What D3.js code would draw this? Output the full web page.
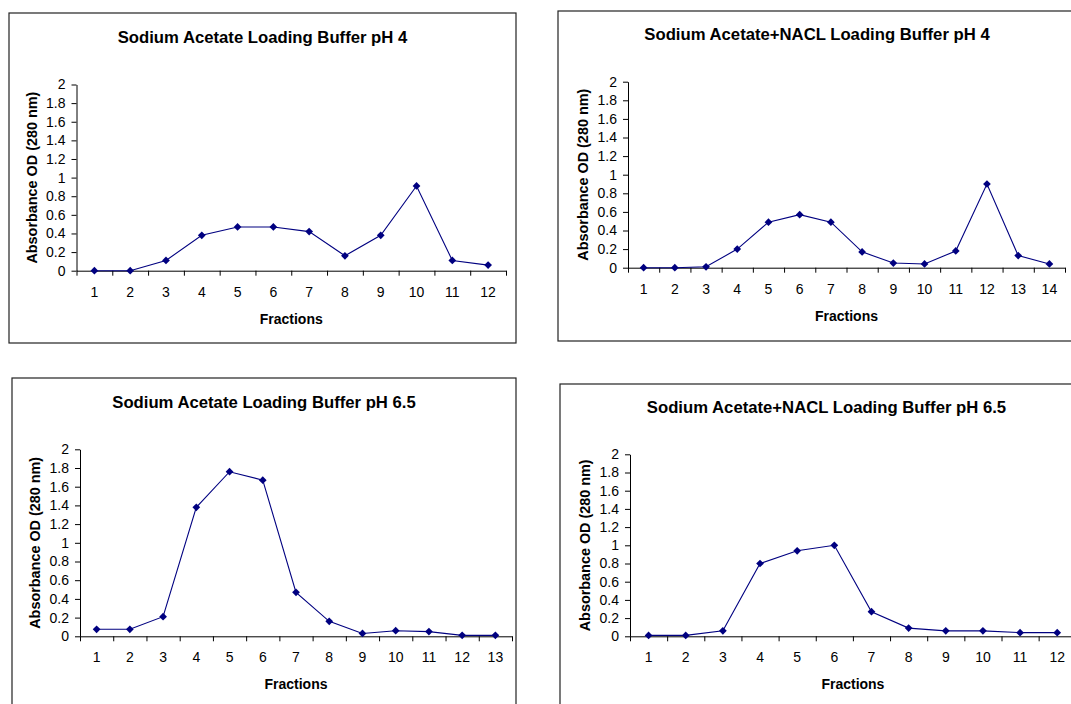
<!DOCTYPE html>
<html>
<head>
<meta charset="utf-8">
<script src="https://cdn.jsdelivr.net/npm/d3@7"></script>
<style>
  body { margin: 0; background: #fff; }
  svg { display: block; }
  text { font-family: "Liberation Sans", Arial, sans-serif; fill: #000; }
</style>
</head>
<body>
<div id="chart"></div>
<script>
// fraction labels for each run
const fractions12 = ["1", "2", "3", "4", "5", "6", "7", "8", "9", "10", "11", "12"];
const fractions13 = ["1", "2", "3", "4", "5", "6", "7", "8", "9", "10", "11", "12", "13"];
const fractions14 = ["1", "2", "3", "4", "5", "6", "7", "8", "9", "10", "11", "12", "13", "14"];

// absorbance OD at 280 nm
const odAcetatePH4 = [0, 0, 0.11, 0.38, 0.47, 0.47, 0.42, 0.16, 0.38, 0.91, 0.11, 0.06];
const odNaclPH4 = [0, 0, 0.01, 0.2, 0.49, 0.57, 0.49, 0.17, 0.05, 0.04, 0.18, 0.9, 0.13, 0.04];
const odAcetatePH65 = [0.075, 0.075, 0.21, 1.38, 1.76, 1.67, 0.47, 0.16, 0.03, 0.06, 0.05, 0.01, 0.01];
const odNaclPH65 = [0.01, 0.01, 0.06, 0.8, 0.94, 1.0, 0.27, 0.09, 0.06, 0.06, 0.04, 0.04];

const titles = [
  "Sodium Acetate Loading Buffer pH 4",
  "Sodium Acetate+NACL Loading Buffer pH 4",
  "Sodium Acetate Loading Buffer pH 6.5",
  "Sodium Acetate+NACL Loading Buffer pH 6.5"
];
const yTicks = [0, 0.2, 0.4, 0.6, 0.8, 1, 1.2, 1.4, 1.6, 1.8, 2];
const yTitle = "Absorbance OD (280 nm)";
const xTitle = "Fractions";

// panel frames and plot areas (pixels)
const panels = [
  {cats: fractions12, vals: odAcetatePH4, title: titles[0],
   frame: [9, 13, 507, 330], x0: 76.5, x1: 506, yTop: 84.5, yZero: 270.7, ylx: 32, ty: 37},
  {cats: fractions14, vals: odNaclPH4, title: titles[1],
   frame: [558, 11, 518, 330], x0: 628, x1: 1065, yTop: 81.7, yZero: 267.7, ylx: 582.5, ty: 34},
  {cats: fractions13, vals: odAcetatePH65, title: titles[2],
   frame: [12, 378, 504, 340], x0: 80, x1: 512, yTop: 449.3, yZero: 636.3, ylx: 35, ty: 401.7},
  {cats: fractions12, vals: odNaclPH65, title: titles[3],
   frame: [560, 384, 533, 340], x0: 630, x1: 1075.8, yTop: 454.3, yZero: 636.3, ylx: 584.5, ty: 406.7}
];

const svg = d3.select("#chart").append("svg")
    .attr("width", 1071)
    .attr("height", 704);

svg.append("rect").attr("width", 1071).attr("height", 704).attr("fill", "#fff");

panels.forEach(p => {
  let g = svg.append("g");

  g.append("rect")
      .attr("x", p.frame[0]).attr("y", p.frame[1])
      .attr("width", p.frame[2]).attr("height", p.frame[3])
      .attr("fill", "none")
      .attr("stroke", "#222")
      .attr("stroke-width", 1.2);

  let x = d3.scaleBand().domain(p.cats).range([p.x0, p.x1]);
  let xEdge = d3.scaleLinear().domain([0, p.cats.length]).range([p.x0, p.x1]);
  let y = d3.scaleLinear().domain([0, 2]).range([p.yZero, p.yTop]);

  // y axis
  let yAxis = g.append("g")
      .attr("transform", "translate(" + p.x0 + ",0)")
      .call(d3.axisLeft(y).tickValues(yTicks).tickSize(5).tickSizeOuter(0).tickPadding(6)
          .tickFormat(d3.format("~g")));
  yAxis.selectAll("text").style("font-size", "14px");

  // x axis: tick marks between categories, labels centred in each
  g.append("g")
      .attr("transform", "translate(0," + p.yZero + ")")
      .call(d3.axisBottom(xEdge).tickValues(d3.range(p.cats.length + 1)).tickSize(5)
          .tickSizeOuter(0).tickFormat(""));
  let xAxis = g.append("g")
      .attr("transform", "translate(0," + p.yZero + ")")
      .call(d3.axisBottom(x).tickSize(0).tickPadding(16));
  xAxis.select(".domain").remove();
  xAxis.selectAll("text").style("font-size", "14px");

  g.selectAll(".domain, .tick line").attr("stroke", "#000");

  let pts = p.vals.map((v, i) => ({cat: p.cats[i], v: v}));

  g.append("path")
      .datum(pts)
      .attr("fill", "none")
      .attr("stroke", "#000080")
      .attr("stroke-width", 1.1)
      .attr("d", d3.line()
          .x(d => x(d.cat) + x.bandwidth() / 2)
          .y(d => y(d.v)));

  g.selectAll(".pt").data(pts).enter().append("path")
      .attr("class", "pt")
      .attr("fill", "#000080")
      .attr("d", d3.symbol().type(d3.symbolSquare).size(30))
      .attr("transform", d => "translate(" + (x(d.cat) + x.bandwidth() / 2) + "," + y(d.v) + ") rotate(45)");

  // titles
  g.append("text")
      .attr("x", p.frame[0] + p.frame[2] / 2)
      .attr("y", p.ty)
      .attr("dy", "0.35em")
      .attr("text-anchor", "middle")
      .style("font-size", "16.7px")
      .style("font-weight", "bold")
      .text(p.title);

  g.append("text")
      .attr("x", (p.x0 + p.x1) / 2)
      .attr("y", p.yZero + 48)
      .attr("dy", "0.35em")
      .attr("text-anchor", "middle")
      .style("font-size", "14px")
      .style("font-weight", "bold")
      .text(xTitle);

  g.append("text")
      .attr("transform", "translate(" + p.ylx + "," + (p.yTop + p.yZero) / 2 + ") rotate(-90)")
      .attr("dy", "0.35em")
      .attr("text-anchor", "middle")
      .style("font-size", "14.4px")
      .style("font-weight", "bold")
      .text(yTitle);
});
</script>
</body>
</html>
